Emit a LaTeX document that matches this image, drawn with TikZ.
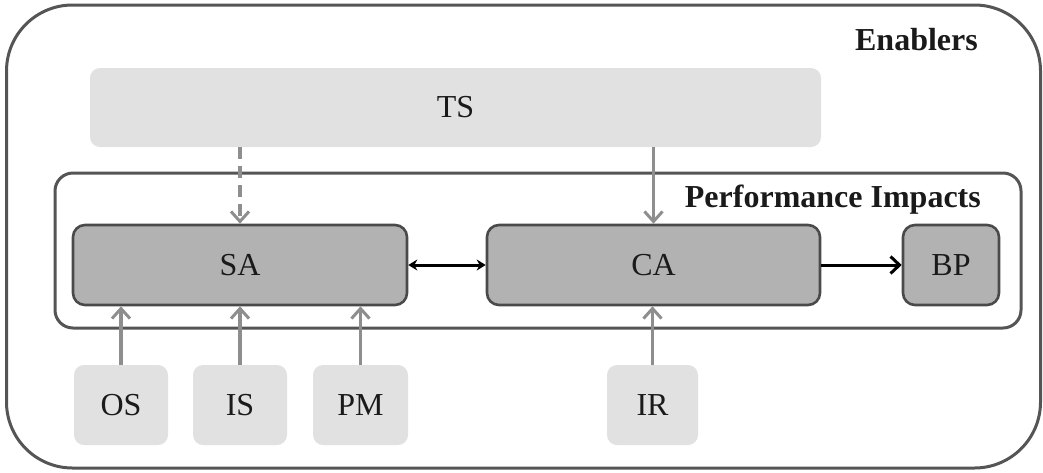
\documentclass[tikz,border=0pt]{standalone}
\usepackage{fontspec}
\setmainfont{Liberation Serif}
\usetikzlibrary{arrows.meta}
\definecolor{lightbox}{HTML}{E1E1E1}
\definecolor{darkbox}{HTML}{B2B2B2}
\definecolor{boxline}{HTML}{4A4A4A}
\definecolor{framecol}{HTML}{555555}
\definecolor{arrowgray}{HTML}{8E8E8E}
\definecolor{txt}{HTML}{1A1A1A}
\tikzset{
  lightnode/.style={fill=lightbox, draw=none, rounded corners=10pt, text=txt,
    font=\fontsize{32}{38}\selectfont, inner sep=0pt},
  darknode/.style={fill=darkbox, draw=boxline, line width=2.6pt, rounded corners=12pt, text=txt,
    font=\fontsize{32}{38}\selectfont, inner sep=0pt, minimum height=80pt},
  framebox/.style={draw=framecol, line width=3pt, fill=none, inner sep=0pt},
  boldlabel/.style={font=\bfseries\fontsize{32}{38}\selectfont, text=txt, inner sep=0pt},
  grayarrow/.style={draw=arrowgray, line width=3.4pt, -{Straight Barb[length=10pt,width=18pt,line width=3pt]}},
  blackarrow/.style={draw=black, line width=3pt, -{Straight Barb[length=9pt,width=17pt,line width=3pt]}},
  dblarrow/.style={draw=black, line width=3pt, {Stealth[length=9pt,width=11pt]}-{Stealth[length=9pt,width=11pt]}},
}
\begin{document}
\begin{tikzpicture}[x=1pt,y=-1pt]
\useasboundingbox (0,0) rectangle (1043,472);
% frames
\node[framebox, rounded corners=66pt, minimum width=1034pt, minimum height=463pt] (outer) at (523.5,236.5) {};
\node[framebox, rounded corners=18pt, minimum width=966pt, minimum height=155pt] (inner) at (538,250.5) {};
\node[boldlabel, anchor=base east] (enab) at (978,50) {Enablers};
\node[boldlabel, anchor=base east] (perf) at (981,207) {Performance Impacts};
% top box
\node[lightnode, minimum width=731pt, minimum height=79pt] (TS) at (455.5,107.5) {TS};
% dark boxes
\node[darknode, minimum width=334pt] (SA) at (240,265) {SA};
\node[darknode, minimum width=333pt] (CA) at (653.5,265) {CA};
\node[darknode, minimum width=96pt] (BP) at (951,265) {BP};
% bottom boxes
\node[lightnode, minimum width=94pt, minimum height=80pt] (OS) at (121,405) {OS};
\node[lightnode, minimum width=94pt, minimum height=80pt] (IS) at (240,405) {IS};
\node[lightnode, minimum width=95pt, minimum height=80pt] (PM) at (360.5,405) {PM};
\node[lightnode, minimum width=91pt, minimum height=80pt] (IR) at (652.5,405) {IR};
% connectors
\draw[grayarrow, dash pattern=on 12pt off 7pt] (SA.north |- TS.south) -- (SA.north);
\draw[grayarrow] (CA.north |- TS.south) -- (CA.north);
\draw[grayarrow] (OS.north) -- (OS.north |- SA.south);
\draw[grayarrow] (IS.north) -- (IS.north |- SA.south);
\draw[grayarrow] (PM.north) -- (PM.north |- SA.south);
\draw[grayarrow] (IR.north) -- (IR.north |- CA.south);
\draw[dblarrow] (SA.east) -- (CA.west);
\draw[blackarrow] (CA.east) -- (BP.west);
\end{tikzpicture}
\end{document}
